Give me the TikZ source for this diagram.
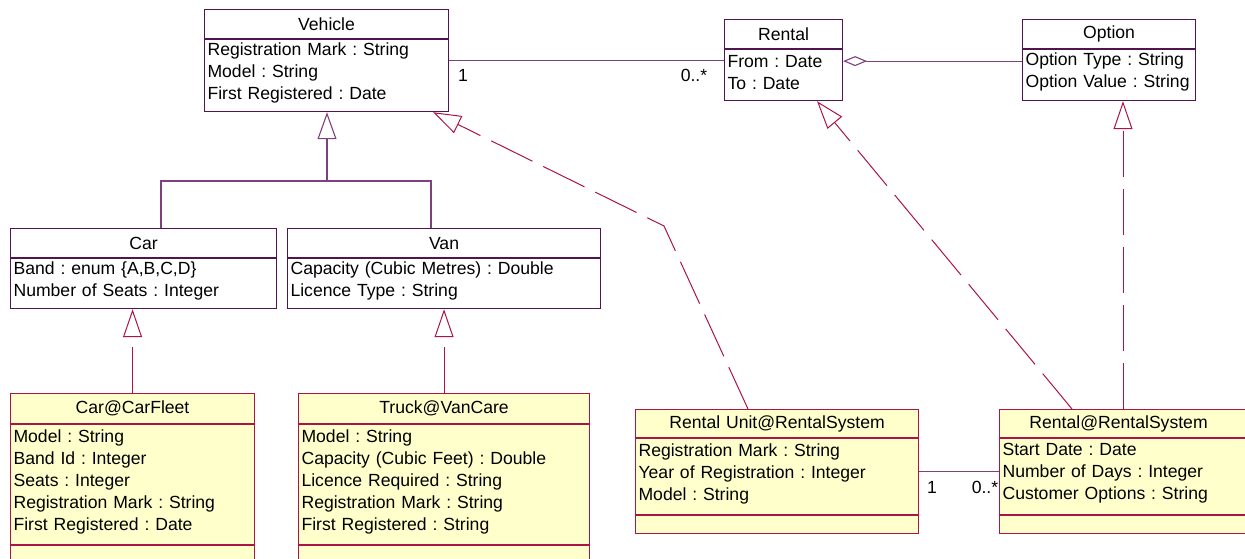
\documentclass[tikz,border=0pt]{standalone}
\usepackage{fontspec}
\setmainfont{Liberation Sans}
\usepackage{xcolor}
\usetikzlibrary{
    arrows.meta,
    calc,
    positioning
}

\definecolor{clsline}{RGB}{80,20,80}
\definecolor{assocline}{RGB}{125,65,125}
\definecolor{realline}{RGB}{170,20,70}
\definecolor{implfill}{RGB}{255,255,204}

\newcommand{\clsfont}{\fontsize{17.6}{22}\selectfont}

\tikzset{
    clsname/.style={draw=clsline, line width=1.1pt, anchor=north west,
        inner xsep=3pt, inner ysep=0pt, align=center, minimum height=29pt,
        font=\clsfont},
    clsattr/.style={draw=clsline, line width=1.1pt, anchor=north west,
        inner xsep=3pt, inner ysep=0pt, align=left, font=\clsfont,
        execute at end node={\par\vspace*{6pt}}},
    implname/.style={clsname, draw=realline, fill=implfill},
    implattr/.style={clsattr, draw=realline, fill=implfill},
    assoc/.style={draw=assocline, line width=1.1pt},
    gen/.style={assoc, -{Triangle[open, width=19pt, length=27pt]}},
    real/.style={draw=realline, line width=1pt, dash pattern=on 46pt off 12pt,
        -{Triangle[open, width=19pt, length=28pt]}},
    mult/.style={font=\fontsize{17.6}{20}\selectfont, inner sep=0pt}
}

\begin{document}
\frenchspacing
\begin{tikzpicture}[x=1pt, y=-1pt]
                    \useasboundingbox (0,0) rectangle (1245,558);

                    % interfaces
                    \node[clsname, text width=238pt] (veh) at (204,9) {Vehicle};
                    \node[clsattr, text width=238pt, minimum height=72pt] (veh-attr) at (veh.south west)
                        {Registration Mark : String\\Model : String\\First Registered : Date};

                    \node[clsname, text width=112pt] (rent) at (724,19) {Rental};
                    \node[clsattr, text width=112pt, minimum height=51pt] (rent-attr) at (rent.south west)
                        {From : Date\\To : Date};

                    \node[clsname, text width=167pt] (opt) at (1022,19) {Option};
                    \node[clsattr, text width=167pt, minimum height=51pt] (opt-attr) at (opt.south west)
                        {Option Type : String\\Option Value : String};

                    \node[clsname, text width=260pt, minimum height=29pt] (car) at (10,228) {Car};
                    \node[clsattr, text width=260pt, minimum height=50pt] (car-attr) at (car.south west)
                        {Band : enum \{A,B,C,D\}\\Number of Seats : Integer};

                    \node[clsname, text width=307pt, minimum height=29pt] (van) at (287,228) {Van};
                    \node[clsattr, text width=307pt, minimum height=50pt] (van-attr) at (van.south west)
                        {Capacity (Cubic Metres) : Double\\Licence Type : String};

                    % implementing classes
                    \node[implname, text width=238pt, minimum height=30pt] (ccf) at (10,393) {Car@CarFleet};
                    \node[implattr, text width=238pt, minimum height=120pt] (ccf-attr) at (ccf.south west)
                        {Model : String\\Band Id : Integer\\Seats : Integer\\Registration Mark : String\\First Registered : Date};
                    \node[implattr, text width=238pt, minimum height=30pt] (ccf-ops) at (ccf-attr.south west) {};

                    \node[implname, text width=285pt, minimum height=30pt] (tvc) at (298,393) {Truck@VanCare};
                    \node[implattr, text width=285pt, minimum height=120pt] (tvc-attr) at (tvc.south west)
                        {Model : String\\Capacity (Cubic Feet) : Double\\Licence Required : String\\Registration Mark : String\\First Registered : String};
                    \node[implattr, text width=285pt, minimum height=30pt] (tvc-ops) at (tvc-attr.south west) {};

                    \node[implname, text width=277pt, minimum height=28pt] (ru) at (635,409) {Rental Unit@RentalSystem};
                    \node[implattr, text width=277pt, minimum height=76pt] (ru-attr) at (ru.south west)
                        {Registration Mark : String\\Year of Registration : Integer\\Model : String};
                    \node[implattr, text width=277pt, minimum height=18pt] (ru-ops) at (ru-attr.south west) {};

                    \node[implname, text width=264pt, minimum height=28pt] (rs) at (999,409) {\hspace*{-32pt}Rental@RentalSystem};
                    \node[implattr, text width=264pt, minimum height=76pt] (rs-attr) at (rs.south west)
                        {Start Date : Date\\Number of Days : Integer\\Customer Options : String};
                    \node[implattr, text width=264pt, minimum height=18pt] (rs-ops) at (rs-attr.south west) {};

                    % generalisation
                    \coordinate (fork) at (327,181);
                    \coordinate (carup) at (161,228);
                    \coordinate (vanup) at (431,228);
                    \draw[assoc] (carup) |- (fork) -| (vanup);
                    \draw[gen] (fork) -- (fork |- veh-attr.south);

                    % associations
                    \draw[assoc] ($(veh-attr.north east)+(0,21)$) -- ($(rent-attr.north west)+(0,11)$);
                    \node[mult] (m1) at (463,75) {1};
                    \node[mult] (m2) at (694,75) {0..*};
                    \draw[assoc, {Diamond[open, length=24pt, width=10pt]}-] ($(rent-attr.north east)+(0,12)$)
                        -- ($(opt-attr.north west)+(0,12)$);
                    \draw[assoc] ($(ru-attr.north east)+(0,33)$) -- ($(rs-attr.north west)+(0,33)$);
                    \node[mult] (m3) at (932,487) {1};
                    \node[mult] (m4) at (985,487) {0..*};

                    % realisations
                    \coordinate (rubend) at (664,226);
                    \draw[real] (ccf.north) -- (ccf.north |- car-attr.south);
                    \draw[real] (tvc.north) -- (tvc.north |- van-attr.south);
                    \draw[real] ($(ru.north west)+(113,0)$) -- (rubend) -- ($(veh-attr.south east)+(-16,0)$);
                    \draw[real] ($(rs.north west)+(73,0)$) -- ($(rent-attr.south west)+(93,0)$);
                    \draw[real] ($(rs.north west)+(124,0)$) -- ($(opt-attr.south west)+(101,0)$);
                \end{tikzpicture}
\end{document}
